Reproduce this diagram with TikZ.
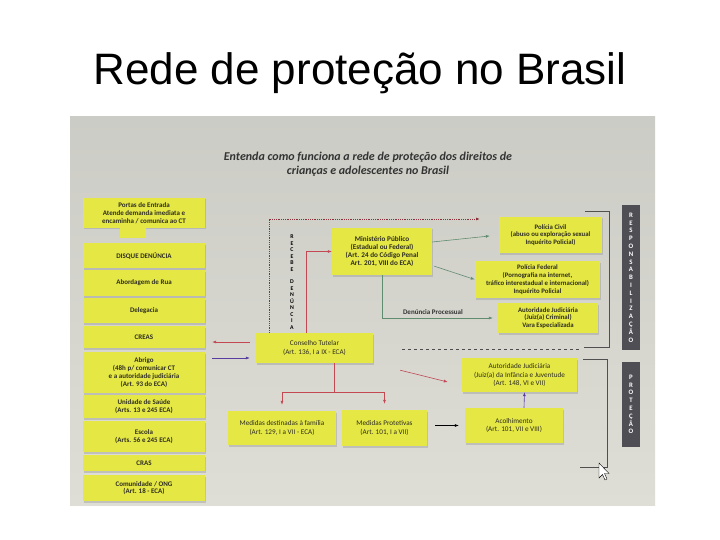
\documentclass[tikz,border=0pt]{standalone}
\usepackage{fontspec}
\setmainfont{Liberation Sans}
\newfontfamily\diagfont{Carlito}
\usetikzlibrary{shadows,arrows.meta}

\definecolor{photobg}{RGB}{222,222,214}
\definecolor{phototop}{RGB}{204,204,198}
\definecolor{boxyellow}{RGB}{229,231,68}
\definecolor{boxtext}{RGB}{45,45,35}
\definecolor{bardark}{RGB}{78,78,84}
\definecolor{linered}{RGB}{196,72,84}
\definecolor{linegreen}{RGB}{96,140,112}
\definecolor{lineblue}{RGB}{88,60,160}
\definecolor{bracketgray}{RGB}{80,80,80}

\tikzset{
  ybox/.style={fill=boxyellow, align=center, inner sep=1pt, text=boxtext,
    font=\diagfont\fontsize{7.2}{8.2}\selectfont,
    drop shadow={shadow xshift=1.2pt, shadow yshift=-1.5pt, opacity=0.3}},
  bbox/.style={ybox, font=\diagfont\bfseries\fontsize{6.8}{7.8}\selectfont},
  leftbox/.style={ybox, font=\diagfont\bfseries\fontsize{7}{7.8}\selectfont, minimum width=122pt},
  vbar/.style={fill=bardark, text=white, align=center, minimum width=18pt,
    font=\diagfont\bfseries\fontsize{6.8}{7.8}\selectfont},
  redline/.style={linered, semithick},
  greenline/.style={linegreen, semithick},
  bracket/.style={bracketgray, thin}
}

\begin{document}
\begin{tikzpicture}[x=1pt, y=-1pt, >={Latex[length=4pt,width=3pt]}]
\useasboundingbox (0,0) rectangle (720,540);
\fill[white] (0,0) rectangle (720,540);
\node[font=\fontsize{44}{50}\selectfont, anchor=base] (title) at (360,85) {Rede de proteção no Brasil};

% photo of the chart
\shade[top color=phototop, bottom color=photobg] (70,117) rectangle (655,505);
\node[font=\diagfont\bfseries\itshape\fontsize{12}{14}\selectfont, text=black!80, align=center] (head) at (368,164)
  {Entenda como funciona a rede de proteção dos direitos de\\crianças e adolescentes no Brasil};

% portas de entrada
\node[leftbox, minimum height=30pt] (portas) at (144,213) {Portas de Entrada\\Atende demanda imediata e\\encaminha / comunica ao CT};
\fill[boxyellow] (120,227) rectangle (146,238);
\node[leftbox, minimum height=25pt] (disque) at (144,255.5) {DISQUE DENÚNCIA};
\node[leftbox, minimum height=26pt] (rua) at (144,283) {Abordagem de Rua};
\node[leftbox, minimum height=25pt] (delegacia) at (144,310.5) {Delegacia};
\node[leftbox, minimum height=22pt] (creas) at (144,337) {CREAS};
\node[leftbox, minimum height=41pt] (abrigo) at (144,372.5) {Abrigo\\(48h p/ comunicar CT\\e a autoridade judiciária\\(Art. 93 do ECA)};
\node[leftbox, minimum height=23pt] (saude) at (144,406.5) {Unidade de Saúde\\(Arts. 13 e 245 ECA)};
\node[leftbox, minimum height=31pt] (escola) at (144,436.5) {Escola\\(Arts. 56 e 245 ECA)};
\node[leftbox, minimum height=16pt] (cras) at (144,463) {CRAS};
\node[leftbox, minimum height=26pt] (comunidade) at (144,488) {Comunidade / ONG\\(Art. 18 - ECA)};

% responsabilizacao
\node[bbox, font=\diagfont\bfseries\fontsize{7.2}{8.2}\selectfont, minimum width=100pt, minimum height=47pt] (mp) at (382,251.5)
  {Ministério Público\\(Estadual ou Federal)\\(Art. 24 do Código Penal\\Art. 201, VIII do ECA)};
\node[bbox, minimum width=103pt, minimum height=36pt] (pc) at (550.5,235) {Polícia Civil\\(abuso ou exploração sexual\\Inquérito Policial)};
\node[bbox, minimum width=125pt, minimum height=37pt] (pf) at (537.5,279.5) {Polícia Federal\\(Pornografia na internet,\\tráfico interestadual e internacional)\\Inquérito Policial};
\node[bbox, minimum width=100pt, minimum height=30pt] (ajc) at (548,318) {Autoridade Judiciária\\(Juiz(a) Criminal)\\Vara Especializada};

% protecao
\node[ybox, minimum width=117pt, minimum height=30pt] (ct) at (314.5,348) {Conselho Tutelar\\(Art. 136, I a IX - ECA)};
\node[ybox, minimum width=108pt, minimum height=34pt] (mfam) at (282,428) {Medidas destinadas à família\\(Art. 129, I a VII - ECA)};
\node[ybox, minimum width=85pt, minimum height=36pt] (mprot) at (384.5,428) {Medidas Protetivas\\(Art. 101, I a VII)};
\node[ybox, minimum width=115pt, minimum height=34pt] (aji) at (519.5,375) {Autoridade Judiciária\\(Juiz(a) da Infância e Juventude\\(Art. 148, VI e VII)};
\node[ybox, minimum width=98pt, minimum height=35pt] (acol) at (514,425.5) {Acolhimento\\(Art. 101, VII e VIII)};

% side bars
\node[vbar, minimum height=145pt] (resp) at (631,277.5) {R\\E\\S\\P\\O\\N\\S\\A\\B\\I\\L\\I\\Z\\A\\Ç\\Ã\\O};
\node[vbar, minimum height=85pt] (prot) at (631,404.5) {P\\R\\O\\T\\E\\Ç\\Ã\\O};
\node[font=\diagfont\bfseries\fontsize{5.8}{6.5}\selectfont, align=center] (recebe) at (292,282)
  {R\\E\\C\\E\\B\\E\\[6pt]D\\E\\N\\Ú\\N\\C\\I\\A};

% brackets and separator
\draw[bracket] (585,211) -- (609,211) -- (609,347) -- (584,347);
\draw[bracket] (583,359) -- (607,359) -- (607,467) -- (580,467);
\draw[dashed, black!70] (402,349) -- (580,349);

% connectors
\coordinate (dotTop) at (269,219);
\coordinate (dotEnd) at (480,219);
\draw[linered!70!black, densely dotted, thick, ->] (ct.north -| dotTop) -- (dotTop) -- (dotEnd);
\draw[redline, ->] ([xshift=-8.5pt]ct.north) |- (mp.west);
\draw[greenline, ->, shorten >=9pt] ([yshift=9.5pt]mp.east) -- (pc.west);
\draw[greenline, ->, shorten <=2pt] ([yshift=-14pt]mp.east) -- (pf.west);
\draw[greenline, ->, shorten >=5pt] (mp.south) |- (ajc.west)
  node[pos=0.72, above, text=black!80, font=\diagfont\bfseries\fontsize{7}{8}\selectfont] {Denúncia Processual};
\coordinate (ctRed) at ([yshift=6pt]ct.west);
\coordinate (ctBlue) at ([yshift=-10pt]ct.west);
\draw[redline, ->, shorten <=6pt, shorten >=7pt] (ctRed) -- (ctRed -| creas.east);
\draw[lineblue, semithick, ->, shorten <=7pt, shorten >=6pt] (ctBlue -| abrigo.east) -- (ctBlue);
\draw[redline] ([xshift=20pt]ct.south) -- ++(0,29) coordinate (fork);
\draw[redline, ->, shorten >=6pt] (fork) -| (mfam.north);
\draw[redline, ->, shorten >=6pt] (fork) -| (mprot.north);
\draw[redline, ->] ([xshift=27pt,yshift=-7pt]ct.south east) -- ([xshift=-14pt,yshift=-7pt]aji.west);
\draw[black, semithick, ->, shorten <=8pt, shorten >=6pt] (mprot.east |- acol.west) -- (acol.west);
\draw[lineblue, semithick, ->] ([xshift=10pt]acol.north) -- ([xshift=5pt]aji.south);

% mouse pointer
\draw[fill=white, thin] (599,463) -- (599,478) -- (602.5,474.5) -- (605,480) -- (607,479) -- (604.5,473.5) -- (609,473.5) -- cycle;
\end{tikzpicture}
\end{document}
